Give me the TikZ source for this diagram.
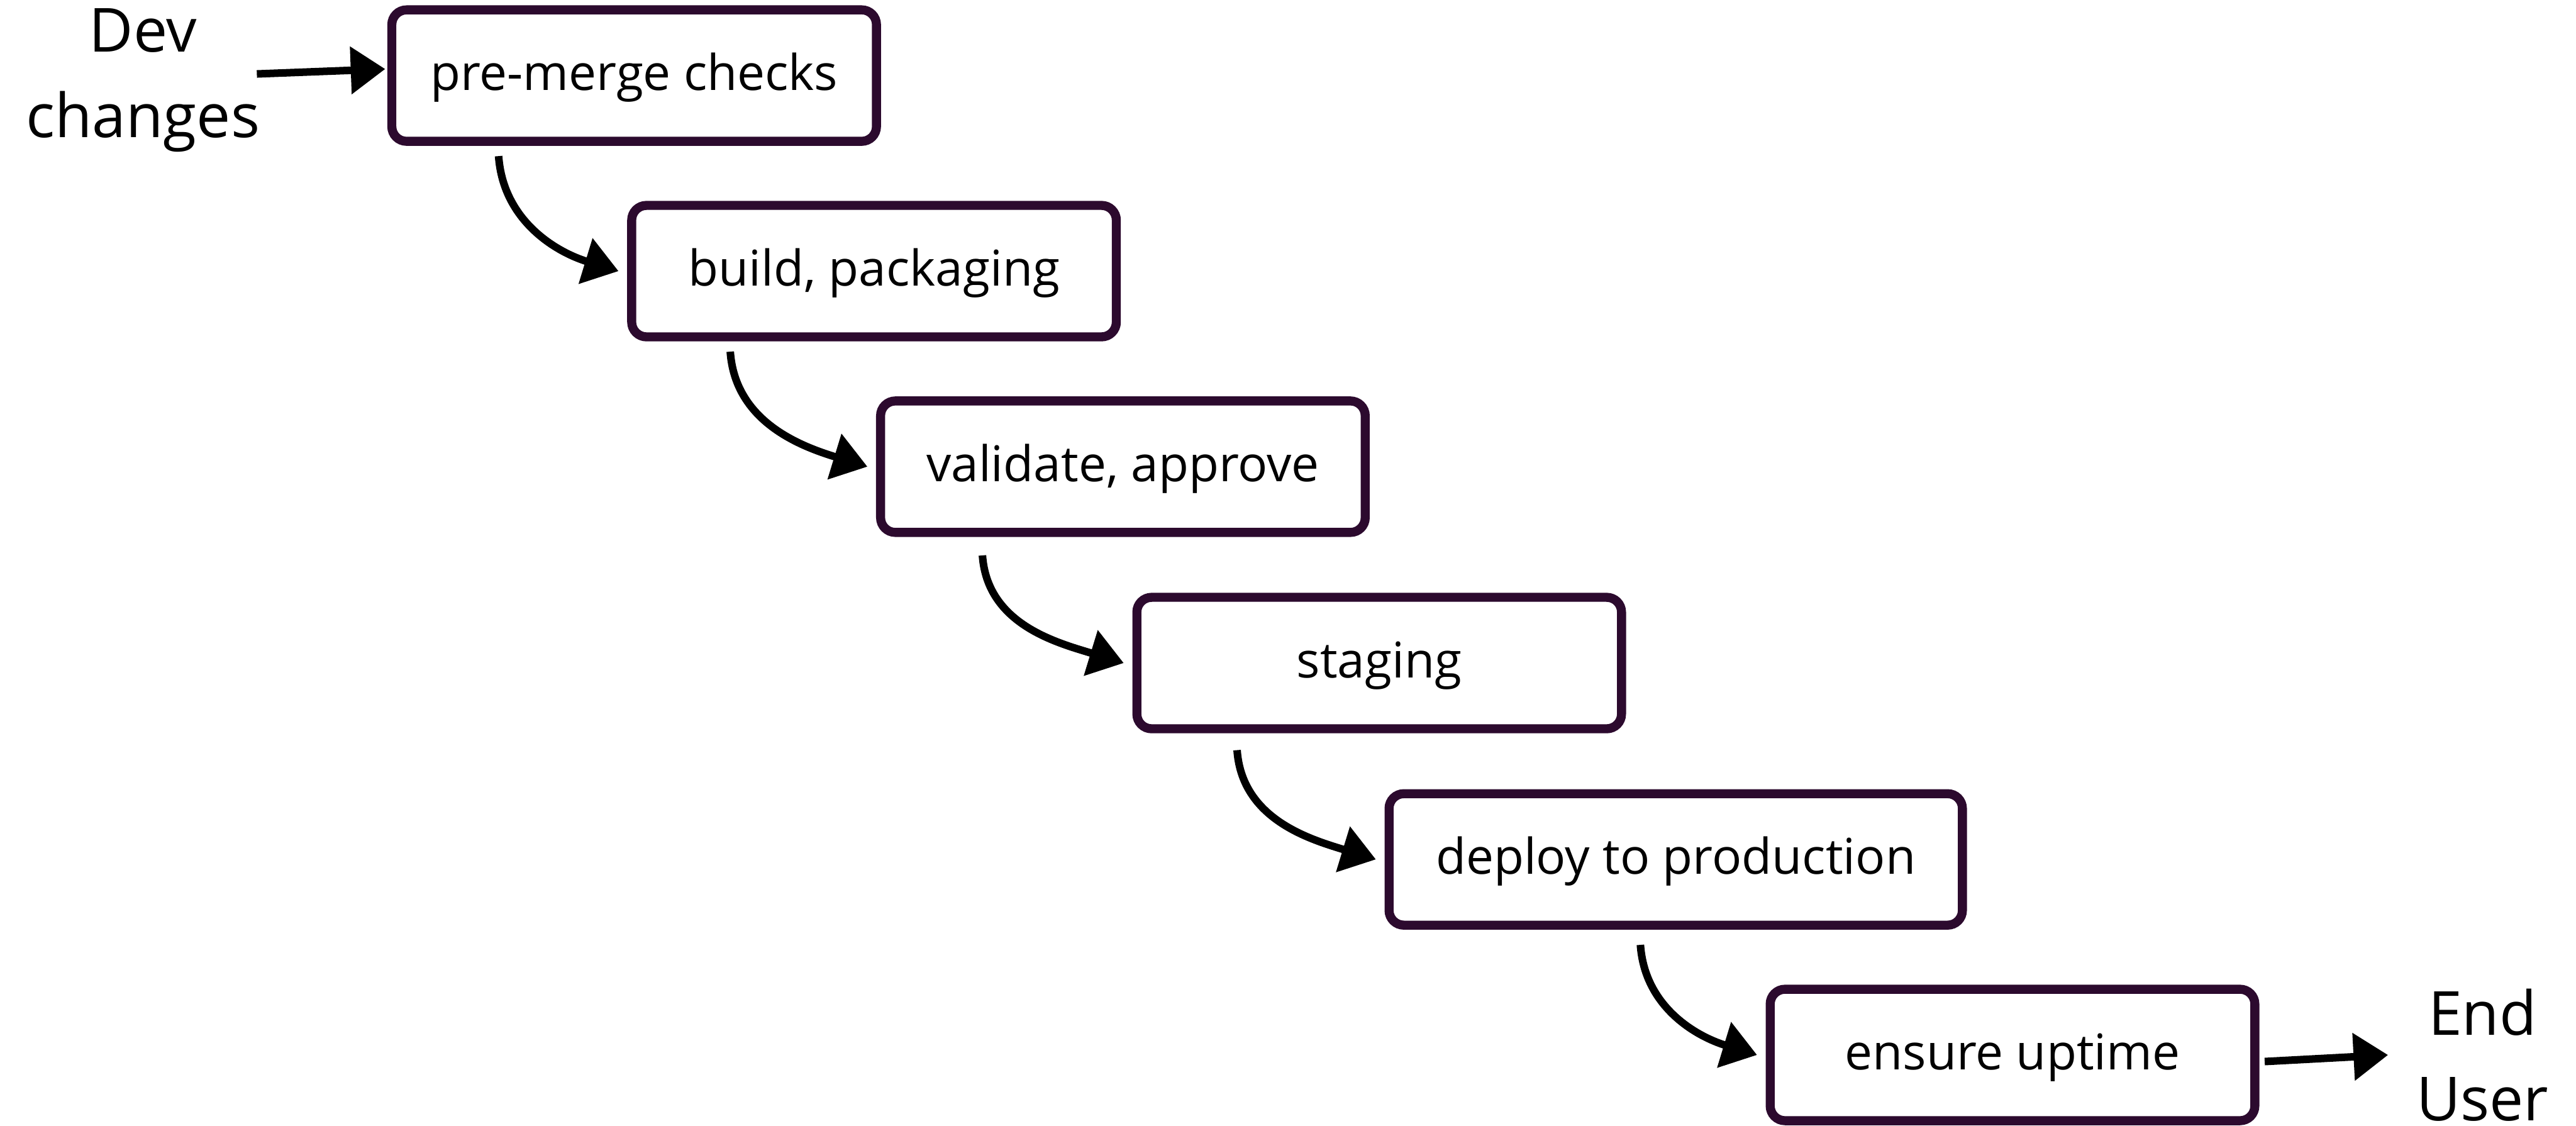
\documentclass[tikz,border=0pt]{standalone}
\usepackage{fontspec}
\setmainfont{Open Sans}
\usetikzlibrary{arrows.meta,calc}
\definecolor{boxline}{HTML}{2C0A2E}
\tikzset{
  stage/.style={draw=boxline, line width=5.5pt, rounded corners=9pt, fill=white,
    minimum width=295pt, minimum height=80pt, inner sep=0pt, outer sep=0pt,
    text height=24pt, text depth=6pt,
    font=\fontsize{30}{36}\selectfont},
  wide/.style={minimum width=349pt},
  endlabel/.style={align=center, inner sep=0pt, font=\fontsize{37}{52}\selectfont},
  arr/.style={line width=4.6pt, -{Triangle[length=21pt,width=28pt]}, shorten >=0pt}
}
\begin{document}
\begin{tikzpicture}[x=1pt,y=1pt]
\useasboundingbox (0,0) rectangle (1568,-685);
\node[endlabel] (dev) at (87,-49) {Dev\\changes};
\node[stage] (b1) at (386,-46) {pre-merge checks};
\node[stage] (b2) at (532,-165) {build, packaging};
\node[stage] (b3) at (683.5,-284) {validate, approve};
\node[stage] (b4) at (839.5,-403.5) {staging};
\node[stage,wide] (b5) at (1020,-523) {deploy to production};
\node[stage] (b6) at (1225,-642) {ensure uptime};
\node[endlabel] (eu) at (1511,-642) {End\\User};
\coordinate (eutip) at ($(eu.west)+(-17,0)$);
\draw[arr] ($(dev.east)+(-2,4)$) -- ($(b1.west)+(-4,4)$);
\draw[arr] ($(b1.south west)+(65,-9)$) to[out=-86,in=163] ($(b2.west)+(-8,0)$);
\draw[arr] ($(b2.south west)+(60,-9)$) to[out=-86,in=163] ($(b3.west)+(-8,0)$);
\draw[arr] ($(b3.south west)+(62,-14)$) to[out=-86,in=163] ($(b4.west)+(-8,0)$);
\draw[arr] ($(b4.south west)+(61,-13)$) to[out=-86,in=163] ($(b5.west)+(-8,0)$);
\draw[arr] ($(b5.south west)+(153,-12)$) to[out=-86,in=163] ($(b6.west)+(-8,0)$);
\draw[arr] ($(b6.east)+(6,-4)$) -- (eutip);
\end{tikzpicture}
\end{document}
